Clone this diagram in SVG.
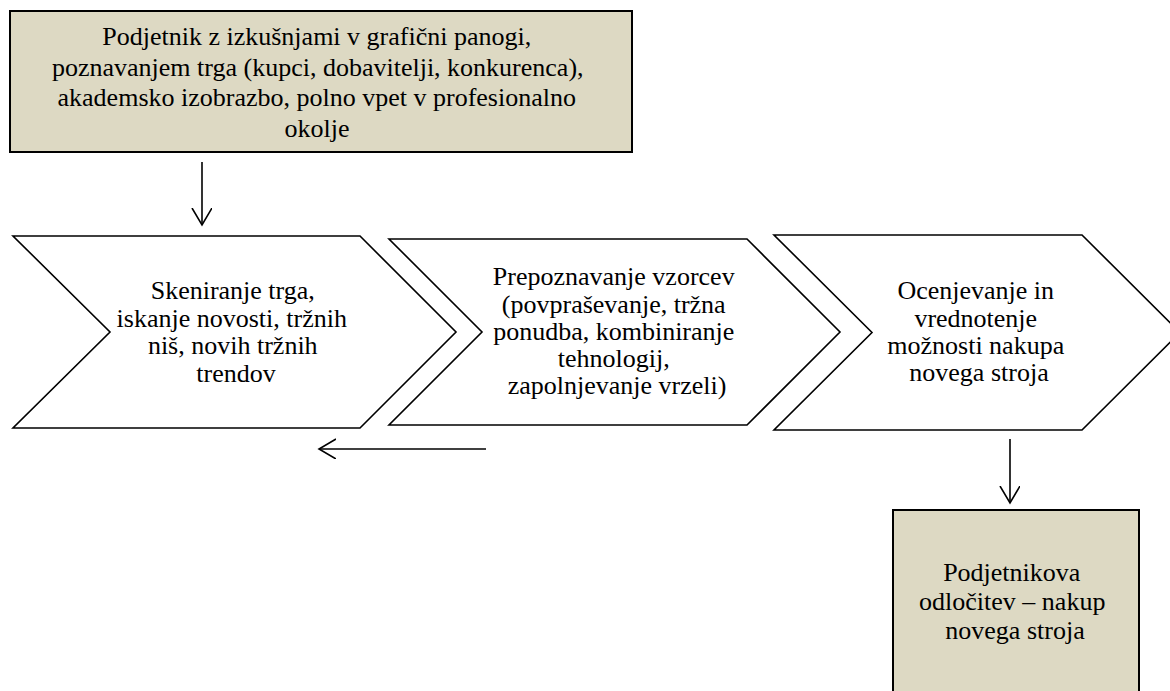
<svg xmlns="http://www.w3.org/2000/svg" width="1170" height="691" viewBox="0 0 1170 691">
  <style>
    .box { fill: #DDD9C3; stroke: #000; stroke-width: 2; }
    .chev { fill: #fff; stroke: #000; stroke-width: 1.6; stroke-linejoin: miter; }
    .lbl { font-family: "Liberation Serif", "Times New Roman", serif; font-size: 26px; fill: #000; text-anchor: middle; }
    .conn { fill: none; stroke: #000; stroke-width: 1.6; }
  </style>
  <defs>
    <marker id="openArrow" markerWidth="22" markerHeight="22" refX="17" refY="10" orient="auto" markerUnits="userSpaceOnUse">
      <path d="M0,0 L17,10 L0,20" fill="none" stroke="#000" stroke-width="1.6"/>
    </marker>
  </defs>
  <rect width="1170" height="691" fill="#fff"/>

  <!-- Entrepreneur profile -->
  <g id="entrepreneur">
    <rect class="box" x="10" y="11" width="622" height="141"/>
    <text class="lbl">
      <tspan x="320" y="45">Podjetnik z izkušnjami v grafični panogi,</tspan>
      <tspan x="321" y="75.5">poznavanjem trga (kupci, dobavitelji, konkurenca),</tspan>
      <tspan x="320" y="106">akademsko izobrazbo, polno vpet v profesionalno</tspan>
      <tspan x="317" y="136.5">okolje</tspan>
    </text>
  </g>

  <!-- Step 1 -->
  <g id="scanning">
    <polygon class="chev" points="13,236 360,236 456,332 360,428 13,428 110,332"/>
    <text class="lbl">
      <tspan x="236" y="299">Skeniranje trga,</tspan>
      <tspan x="235" y="327">iskanje novosti, tržnih</tspan>
      <tspan x="236" y="354">niš, novih tržnih</tspan>
      <tspan x="236" y="382">trendov</tspan>
    </text>
  </g>

  <!-- Step 2 -->
  <g id="patterns">
    <polygon class="chev" points="389,239 747,239 840,332 747,425 389,425 482,332"/>
    <text class="lbl">
      <tspan x="617" y="285">Prepoznavanje vzorcev</tspan>
      <tspan x="617" y="312.5">(povpraševanje, tržna</tspan>
      <tspan x="617" y="340">ponudba, kombiniranje</tspan>
      <tspan x="617" y="367">tehnologij,</tspan>
      <tspan x="617" y="394">zapolnjevanje vrzeli)</tspan>
    </text>
  </g>

  <!-- Step 3 -->
  <g id="evaluation">
    <polygon class="chev" points="774,235 1082,235 1180,332.5 1082,430 774,430 872,332.5"/>
    <text class="lbl">
      <tspan x="979" y="299">Ocenjevanje in</tspan>
      <tspan x="979" y="327">vrednotenje</tspan>
      <tspan x="979" y="354">možnosti nakupa</tspan>
      <tspan x="979" y="381">novega stroja</tspan>
    </text>
  </g>

  <!-- Decision -->
  <g id="decision">
    <rect class="box" x="893" y="510" width="246" height="200"/>
    <text class="lbl">
      <tspan x="1015" y="581">Podjetnikova</tspan>
      <tspan x="1015.5" y="610">odločitev – nakup</tspan>
      <tspan x="1015" y="639">novega stroja</tspan>
    </text>
  </g>

  <!-- Connectors -->
  <g id="connectors">
    <line class="conn" x1="202" y1="162" x2="202" y2="225" marker-end="url(#openArrow)"/>
    <line class="conn" x1="486" y1="449" x2="319" y2="449" marker-end="url(#openArrow)"/>
    <line class="conn" x1="1010" y1="439" x2="1010" y2="503" marker-end="url(#openArrow)"/>
  </g>
</svg>
